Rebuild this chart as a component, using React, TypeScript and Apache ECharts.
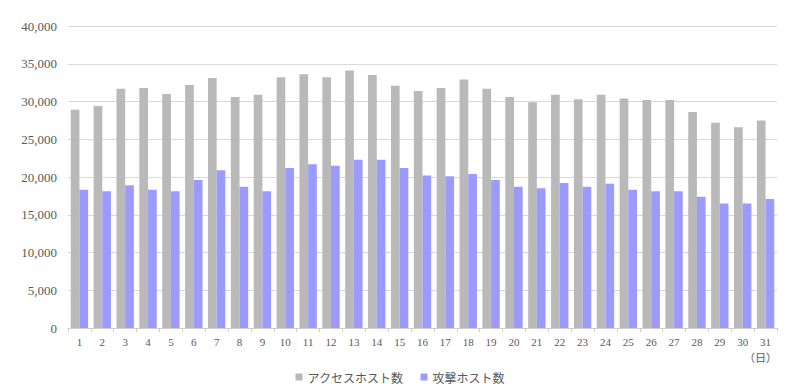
import React, { useEffect, useRef } from "react";
import * as echarts from "echarts";

const days = Array.from({ length: 31 }, (_, i) => String(i + 1));
const accessHosts = [
  28900, 29400, 31700, 31800, 31000, 32200, 33100, 30600, 30900, 33200,
  33600, 33200, 34100, 33500, 32100, 31400, 31800, 32900, 31700, 30600,
  29900, 30900, 30300, 30900, 30400, 30200, 30200, 28600, 27200, 26600, 27500,
];
const attackHosts = [
  18300, 18100, 18900, 18300, 18100, 19600, 20900, 18700, 18100, 21200,
  21700, 21500, 22300, 22300, 21200, 20200, 20100, 20400, 19600, 18700,
  18500, 19200, 18700, 19100, 18300, 18100, 18100, 17400, 16500, 16500, 17100,
];
const seriesNames = ["アクセスホスト数", "攻撃ホスト数"];
const unitLabel = "（日）";

export default function App() {
  const ref = useRef<HTMLDivElement>(null);
  useEffect(() => {
    if (!ref.current) return;
    const chart = echarts.init(ref.current, null, { renderer: "svg" });
    const numFont = "'Liberation Serif', 'DejaVu Serif', serif";
    const jpFont = "'Noto Sans CJK JP', sans-serif";
    chart.setOption({
      animation: false,
      backgroundColor: "#ffffff",
      grid: { left: 60, right: 15, top: 18, bottom: 62, containLabel: false },
      legend: {
        top: 358,
        left: "center",
        itemWidth: 7,
        itemHeight: 7,
        itemGap: 17,
        icon: "rect",
        textStyle: { color: "#595959", fontSize: 12, fontFamily: jpFont },
        data: seriesNames,
      },
      xAxis: {
        type: "category",
        data: days,
        axisLine: { lineStyle: { color: "#cfcfcf" } },
        axisTick: { show: true, length: 4, lineStyle: { color: "#cfcfcf" } },
        axisLabel: { color: "#595959", fontSize: 11, fontFamily: numFont, margin: 8 },
      },
      yAxis: {
        type: "value",
        min: 0,
        max: 40000,
        interval: 5000,
        axisLine: { show: false },
        axisTick: { show: false },
        splitLine: { lineStyle: { color: "#d9d9d9" } },
        axisLabel: {
          color: "#595959",
          fontSize: 13,
          fontFamily: numFont,
          margin: 11,
          formatter: (v: number) => v.toLocaleString("en-US"),
        },
      },
      series: [
        {
          name: seriesNames[0],
          type: "bar",
          data: accessHosts,
          barGap: "0%",
          barCategoryGap: "24%",
          itemStyle: { color: "#b9b9b9" },
        },
        {
          name: seriesNames[1],
          type: "bar",
          data: attackHosts,
          itemStyle: { color: "#9b9bff" },
        },
      ],
      graphic: [
        {
          type: "text",
          right: 15,
          top: 343,
          style: {
            text: unitLabel,
            fill: "#595959",
            fontSize: 11,
            fontFamily: jpFont,
          },
        },
      ],
    });
    return () => chart.dispose();
  }, []);
  return <div ref={ref} style={{ width: 784, height: 382 }} />;
}
